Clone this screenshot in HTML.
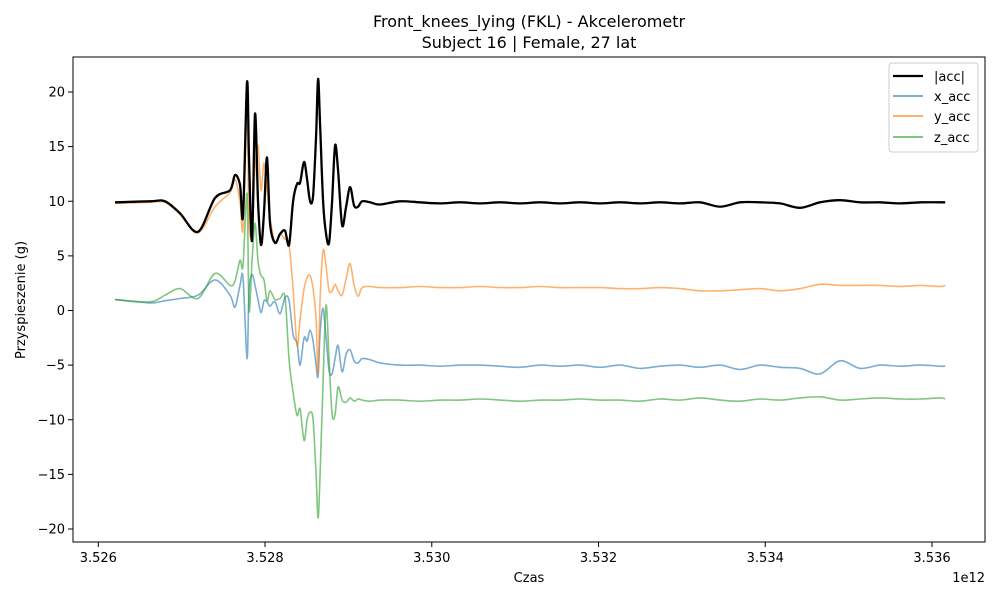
<!DOCTYPE html>
<html><head><meta charset="utf-8"><style>
body{margin:0;background:#fff;font-family:"Liberation Sans","DejaVu Sans",sans-serif}
svg text{font-family:"DejaVu Sans","Liberation Sans",sans-serif;fill:#000}
</style></head><body>
<svg id="chart" width="1000" height="600">
<rect width="1000" height="600" fill="#fff"/>
<text x="529" y="27" font-size="16" text-anchor="middle">Front_knees_lying (FKL) - Akcelerometr</text>
<text x="529" y="48" font-size="16" text-anchor="middle">Subject 16 | Female, 27 lat</text>
<g id="plot"></g>
<rect x="73" y="57" width="912" height="485" fill="none" stroke="#000" stroke-width="1"/>
<text x="529" y="582" font-size="13" text-anchor="middle">Czas</text>
<text x="985" y="582" font-size="13" text-anchor="end">1e12</text>
<text transform="translate(25,300) rotate(-90)" font-size="13" text-anchor="middle">Przyspieszenie (g)</text>
<g>
<rect x="889" y="63" width="89" height="89" rx="3" fill="#fff" fill-opacity="0.8" stroke="#ccc"/>
<line x1="893" x2="923" y1="76" y2="76" stroke="#000" stroke-width="2.2"/>
<text x="934" y="81" font-size="13">|acc|</text>
<line x1="893" x2="923" y1="96" y2="96" stroke="#1f77b4" stroke-opacity="0.6" stroke-width="2"/>
<text x="934" y="101" font-size="13">x_acc</text>
<line x1="893" x2="923" y1="116" y2="116" stroke="#ff7f0e" stroke-opacity="0.6" stroke-width="2"/>
<text x="934" y="121" font-size="13">y_acc</text>
<line x1="893" x2="923" y1="137" y2="137" stroke="#2ca02c" stroke-opacity="0.6" stroke-width="2"/>
<text x="934" y="142" font-size="13">z_acc</text>
</g>
</svg>
<script>
// time offsets (units of 1e-6 on the 1e12 scale, from 3.526)
const timeOffsets=[200,620,800,980,1196,1400,1580,1640,1700,1736,1784,1808,1844,1880,1916,1952,1988,2024,2060,2120,2180,2240,2288,2336,2384,2420,2468,2504,2540,2576,2612,2636,2660,2696,2732,2768,2804,2840,2876,2924,2972,3020,3068,3116,3164,3260,3380,
3619,3859,4099,4339,4579,4819,5059,5299,5539,5779,6019,6259,6499,6738,6978,7218,7458,7698,7938,8178,8418,8658,8898,9138,9378,9618,9858,10098,10158];
const accValues=[9.9,10.0,10.0,8.9,7.2,10.3,11.0,12.4,11.5,8.7,20.9,14,6.4,18.0,10,6.0,9,14.0,8,6.2,7.0,7.3,6.0,10,11.6,11.7,13.6,12,10,10.5,16,21.2,17,10,7,6.2,10,15.1,12.8,7.8,9.5,11.3,9.6,9.5,10.0,9.9,9.7,
10.0,9.9,9.8,9.9,9.8,9.9,9.8,9.9,9.8,9.9,9.8,9.9,9.8,9.9,9.8,9.9,9.5,9.9,9.9,9.8,9.4,9.9,10.1,9.9,9.9,9.8,9.9,9.9,9.9];
const xValues=[1.0,0.7,0.9,1.1,1.4,2.8,1.4,0.3,2.3,3.0,-4.4,1.8,3.3,2.3,1.0,-0.2,0.9,0.8,0.4,0.8,-0.3,1.2,0.9,-2.2,-3.0,-5.0,-2.5,-2.8,-1.8,-2.8,-5,-6,-2,0.2,-2.5,-5.5,-5.8,-4.4,-3.2,-5.6,-4.0,-3.6,-4.6,-4.8,-4.4,-4.5,-4.8,
-5.0,-5.0,-5.1,-5.0,-5.0,-5.1,-5.2,-5.0,-5.1,-5.0,-5.2,-5.0,-5.3,-5.1,-5.0,-5.2,-5.0,-5.4,-5.0,-5.2,-5.3,-5.8,-4.6,-5.3,-5.0,-5.1,-5.0,-5.1,-5.1];
const yValues=[9.8,9.9,9.9,8.8,7.1,9.5,10.8,12.0,10,7.5,18.3,8,7.3,13,15.1,11,13.5,11,8.5,6.2,7.0,6.5,6.0,2,-3.2,-0.8,2,3.0,3.2,2.0,-0.8,-5.8,1,5.5,4,1.8,1.8,2.4,1.8,1.4,2.9,4.3,2.3,1.3,2.1,2.2,2.1,
2.1,2.2,2.1,2.1,2.2,2.1,2.1,2.2,2.1,2.1,2.1,2.0,2.0,2.1,2.0,1.8,1.8,1.9,2.0,1.8,2.0,2.4,2.3,2.3,2.3,2.2,2.3,2.2,2.3];
const zValues=[1.0,0.8,1.4,2.0,1.1,3.4,2.3,2.7,4.6,4.1,10.7,0,4.5,8,4.5,3.2,2.8,0.9,1.8,1.0,1.1,1.2,-4.5,-7.5,-9.6,-9.0,-11.9,-10,-9.3,-10,-15,-19,-15,-6.5,0.5,-4.5,-9.5,-9.5,-7,-8.2,-8.4,-8.0,-8.3,-8.1,-8.2,-8.3,-8.2,
-8.2,-8.3,-8.2,-8.2,-8.1,-8.2,-8.3,-8.2,-8.2,-8.1,-8.2,-8.2,-8.3,-8.1,-8.2,-8.0,-8.2,-8.3,-8.1,-8.2,-8.0,-7.9,-8.2,-8.1,-8.0,-8.1,-8.1,-8.0,-8.1];
const yTicks=[-20,-15,-10,-5,0,5,10,15,20];
const xTicks=[3.526,3.528,3.530,3.532,3.534,3.536];

const NS='http://www.w3.org/2000/svg';
const svg=document.getElementById('chart');
const plot=document.getElementById('plot');
function sx(t){return 98.3+(t-3.526)/0.010*833.7;}
function sy(v){return 310.5-v*10.925;}
function tOf(o){return 3.526+o/1e6;}
function mk(tag,attrs,parent){const e=document.createElementNS(NS,tag);for(const k in attrs)e.setAttribute(k,attrs[k]);(parent||svg).appendChild(e);return e;}
yTicks.forEach(v=>{
  const l=mk('line',{x1:68,x2:73,y1:sy(v),y2:sy(v),stroke:'#000'});
  
  
  const t=mk('text',{x:65,y:sy(v)+4.5,'font-size':13,'text-anchor':'end'});
  t.textContent=(v<0?'\u2212'+(-v):String(v));
  
  
});
xTicks.forEach(v=>{
  const l=mk('line',{x1:sx(v),x2:sx(v),y1:542,y2:547,stroke:'#000'});
  
  
  const t=mk('text',{x:sx(v),y:562,'font-size':13,'text-anchor':'middle'});
  t.textContent=v.toFixed(3);
  
  
});
function series(vals,color,w,op,name){
  const P=vals.map((v,i)=>[sx(tOf(timeOffsets[i])),sy(v)]);
  let d='M'+P[0][0].toFixed(1)+','+P[0][1].toFixed(1);
  for(let i=0;i<P.length-1;i++){
    const p0=P[Math.max(0,i-1)],p1=P[i],p2=P[i+1],p3=P[Math.min(P.length-1,i+2)];
    const k=0.16;
    const c1=[p1[0]+(p2[0]-p0[0])*k,p1[1]+(p2[1]-p0[1])*k];
    const c2=[p2[0]-(p3[0]-p1[0])*k,p2[1]-(p3[1]-p1[1])*k];
    c1[0]=Math.min(Math.max(c1[0],p1[0]),p2[0]);c2[0]=Math.min(Math.max(c2[0],p1[0]),p2[0]);
    d+='C'+c1[0].toFixed(1)+','+c1[1].toFixed(1)+' '+c2[0].toFixed(1)+','+c2[1].toFixed(1)+' '+p2[0].toFixed(1)+','+p2[1].toFixed(1);
  }
  const p=mk('path',{d:d,fill:'none',stroke:color,'stroke-width':w,'stroke-opacity':op,'stroke-linejoin':'round'},plot);
  
  
}
series(xValues,'#1f77b4',1.6,0.6,'x-acc-line');
series(yValues,'#ff7f0e',1.6,0.6,'y-acc-line');
series(zValues,'#2ca02c',1.6,0.6,'z-acc-line');
series(accValues,'#000',2.3,1,'acc-magnitude-line');
</script>
</body></html>
